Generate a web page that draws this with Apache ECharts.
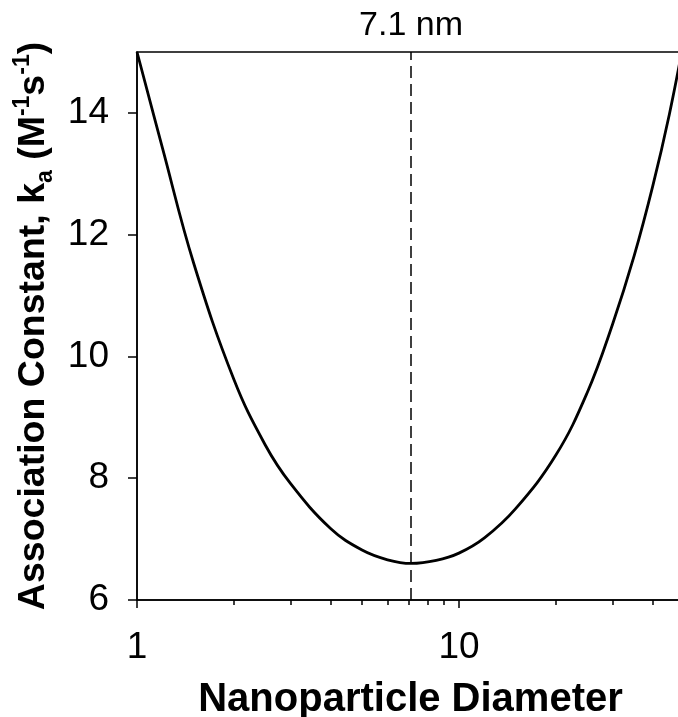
<!DOCTYPE html>
<html>
<head>
<meta charset="utf-8">
<script src="https://cdn.jsdelivr.net/npm/echarts@6/dist/echarts.min.js"></script>
<style>
  html, body { margin: 0; padding: 0; background: #fff; }
  #main { width: 678px; height: 717px; }
</style>
</head>
<body>
<div id="main"></div>
<script>
// values (x on a log scale)
var diameter = [1, 1.2, 1.5, 2, 2.5, 3, 4, 5, 6, 7.1, 8.5, 10, 12, 15, 20, 25, 30, 35, 40, 45, 50];
var ka = [15, 13.42, 11.53, 9.62, 8.55, 7.91, 7.17, 6.82, 6.66, 6.6, 6.65, 6.77, 7.02, 7.5, 8.38, 9.4, 10.53, 11.65, 12.8, 13.97, 15.2];
var minDiameter = 7.1;
var yTicks = [6, 8, 10, 12, 14];
var xMajorTicks = [1, 10];
var xMinorTicks = [2, 3, 4, 5, 6, 7, 8, 9, 20, 30, 40];

var font = '"Liberation Sans", Arial, sans-serif';
var myChart = echarts.init(document.getElementById('main'));

var points = diameter.map(function (d, i) {
  return [d, ka[i]];
});

var option = {
  backgroundColor: '#fff',
  animation: false,
  grid: {
    left: 137,
    right: -6,
    top: 52,
    bottom: 117,
    outerBoundsMode: 'none',
    show: true,
    borderColor: '#000',
    borderWidth: 1.5
  },
  xAxis: [
    {
      type: 'log',
      logBase: 10,
      min: 1,
      max: 50,
      position: 'bottom',
      axisLine: {lineStyle: {color: '#000', width: 1.5}},
      axisTick: {customValues: xMajorTicks, length: 8, lineStyle: {color: '#000', width: 1.5}},
      axisLabel: {customValues: xMajorTicks, fontSize: 37, color: '#000', fontFamily: font, margin: 29},
      splitLine: {show: false},
      name: 'Nanoparticle Diameter',
      nameLocation: 'middle',
      nameGap: 80,
      nameTextStyle: {fontSize: 40, fontWeight: 'bold', color: '#000', fontFamily: font}
    },
    {
      // minor ticks only
      type: 'log',
      logBase: 10,
      min: 1,
      max: 50,
      position: 'bottom',
      axisLine: {show: false},
      axisTick: {customValues: xMinorTicks, length: 5, lineStyle: {color: '#000', width: 1.5}},
      axisLabel: {show: false},
      splitLine: {show: false}
    }
  ],
  yAxis: {
    type: 'value',
    min: 6,
    max: 15,
    axisLine: {show: true, lineStyle: {color: '#000', width: 1.5}},
    axisTick: {show: true, customValues: yTicks, length: 9, lineStyle: {color: '#000', width: 1.5}},
    axisLabel: {customValues: yTicks, fontSize: 37, color: '#000', fontFamily: font, margin: 28},
    splitLine: {show: false},
    name: '{b|Association Constant, k}{sub|a}{b| (M}{sup|-1}{b|s}{sup|-1}{b|)}',
    nameLocation: 'middle',
    nameGap: 80,
    nameTextStyle: {
      color: '#000',
      fontFamily: font,
      rich: {
        b: {fontSize: 37.5, fontWeight: 'bold', fontFamily: font, color: '#000', lineHeight: 46, verticalAlign: 'middle'},
        sub: {fontSize: 23, fontWeight: 'bold', fontFamily: font, color: '#000', lineHeight: 22, verticalAlign: 'bottom'},
        sup: {fontSize: 23, fontWeight: 'bold', fontFamily: font, color: '#000', lineHeight: 22, verticalAlign: 'top'}
      }
    }
  },
  series: [
    {
      type: 'line',
      xAxisIndex: 0,
      data: points,
      smooth: 0.4,
      showSymbol: false,
      lineStyle: {color: '#000', width: 2.8},
      markLine: {
        silent: true,
        symbol: ['none', 'none'],
        data: [{xAxis: minDiameter}],
        lineStyle: {color: '#000', width: 1.5, type: [12, 6]},
        label: {
          position: 'end',
          formatter: minDiameter + ' nm',
          fontSize: 34,
          color: '#000',
          fontFamily: font,
          distance: 9
        }
      }
    }
  ]
};

myChart.setOption(option);
</script>
</body>
</html>
